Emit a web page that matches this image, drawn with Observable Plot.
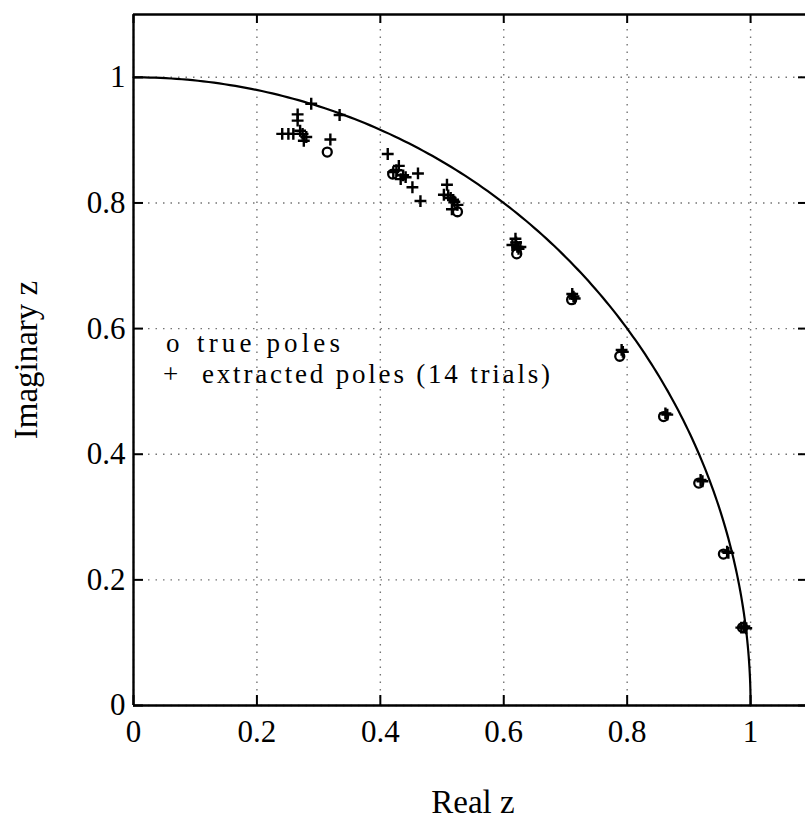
<!DOCTYPE html>
<html><head><meta charset="utf-8">
<script src="https://cdn.jsdelivr.net/npm/d3@7"></script>
<script src="https://cdn.jsdelivr.net/npm/@observablehq/plot@0.6"></script>
<style>
body{margin:0;background:#fff;}
#wrap{width:805px;height:821px;}
</style></head><body><div id="wrap"></div>
<script>
// Axis ticks
const xTicks = [0, 0.2, 0.4, 0.6, 0.8, 1];
const xTickLabels = ["0", "0.2", "0.4", "0.6", "0.8", "1"];
const yTicks = [0, 0.2, 0.4, 0.6, 0.8, 1];
const yTickLabels = ["0", "0.2", "0.4", "0.6", "0.8", "1"];
const xLabel = "Real z";
const yLabel = "Imaginary z";
const legendLabels = ["true poles", "extracted poles (14 trials)"];

// True poles (o)
const trueX = [0.314, 0.420, 0.525, 0.621, 0.710, 0.788, 0.859, 0.916, 0.956, 0.987];
const trueY = [0.881, 0.846, 0.786, 0.719, 0.646, 0.556, 0.460, 0.354, 0.241, 0.124];

// Extracted poles (+), 14 trials, many overlapping
const extX = [
  0.288, 0.334, 0.266, 0.266, 0.241, 0.251, 0.259, 0.274, 0.276, 0.319, 0.270, 0.280,
  0.412, 0.430, 0.421, 0.437, 0.441, 0.461, 0.452, 0.465, 0.426, 0.433,
  0.508, 0.503, 0.514, 0.520, 0.516, 0.525, 0.510, 0.518,
  0.619, 0.622, 0.627, 0.614, 0.620, 0.624,
  0.713, 0.711, 0.715,
  0.793, 0.791,
  0.865, 0.862,
  0.922, 0.919,
  0.964, 0.962,
  0.985, 0.989, 0.993, 0.990
];
const extY = [
  0.958, 0.940, 0.941, 0.931, 0.910, 0.910, 0.910, 0.910, 0.899, 0.901, 0.915, 0.905,
  0.878, 0.859, 0.849, 0.844, 0.841, 0.847, 0.825, 0.803, 0.852, 0.838,
  0.829, 0.813, 0.808, 0.802, 0.790, 0.797, 0.812, 0.805,
  0.743, 0.730, 0.730, 0.733, 0.737, 0.727,
  0.651, 0.655, 0.648,
  0.563, 0.566,
  0.463, 0.465,
  0.357, 0.359,
  0.243, 0.245,
  0.124, 0.124, 0.123, 0.126
];

// Unit circle reference (angles in degrees)
const circleDeg = d3.range(0, 90.25, 0.5);

const truePoles = trueX.map((x, i) => ({x, y: trueY[i]}));
const extPoles = extX.map((x, i) => ({x, y: extY[i]}));
const circle = circleDeg.map(a => ({x: Math.cos(a * Math.PI / 180), y: Math.sin(a * Math.PI / 180)}));

const fmtX = d => xTickLabels[xTicks.indexOf(d)];
const fmtY = d => yTickLabels[yTicks.indexOf(d)];
const font = '"Liberation Serif", "Times New Roman", serif';

const plot = Plot.plot({
  width: 805, height: 821,
  marginLeft: 133, marginRight: 0, marginTop: 14, marginBottom: 116,
  x: {domain: [0, 1.089]},
  y: {domain: [0, 1.1]},
  style: {fontFamily: font, fontSize: "30px", color: "black", background: "white"},
  marks: [
    Plot.gridX(xTicks, {stroke: "black", strokeOpacity: 0.55, strokeWidth: 1.4, strokeDasharray: "1.5,6"}),
    Plot.gridY(yTicks, {stroke: "black", strokeOpacity: 0.55, strokeWidth: 1.4, strokeDasharray: "1.5,6"}),
    Plot.line(circle, {x: "x", y: "y", stroke: "black", strokeWidth: 2.2}),
    Plot.dot(truePoles, {x: "x", y: "y", symbol: "circle", r: 4.5, stroke: "black", strokeWidth: 2.3, fill: "none"}),
    Plot.dot(extPoles, {x: "x", y: "y", symbol: "plus", r: 3.9, stroke: "black", strokeWidth: 2.4}),
    Plot.ruleX([0], {stroke: "black", strokeWidth: 2.4}),
    Plot.ruleY([0], {stroke: "black", strokeWidth: 2.4}),
    Plot.ruleY([1.1], {stroke: "black", strokeWidth: 2.4}),
    Plot.axisX(xTicks, {anchor: "bottom", tickSize: -10, tickPadding: 24, tickFormat: fmtX, label: null, strokeWidth: 2, fontSize: 31, fontFamily: font, fontVariant: "normal"}),
    Plot.axisX(xTicks, {anchor: "top", tickSize: -8, tickFormat: () => "", label: null, strokeWidth: 2}),
    Plot.axisY(yTicks, {anchor: "left", tickSize: -10, tickPadding: 18, tickFormat: fmtY, label: null, strokeWidth: 2, fontSize: 31, fontFamily: font, fontVariant: "normal"}),
    Plot.axisY(yTicks, {anchor: "right", tickSize: -8, tickFormat: () => "", label: null, strokeWidth: 2})
  ]
});

document.getElementById("wrap").appendChild(plot);

const svg = d3.select(plot);
svg.append("text").attr("x", 473).attr("y", 813).attr("text-anchor", "middle")
  .attr("font-family", font).attr("font-size", 33).attr("fill", "black").text(xLabel);
svg.append("text").attr("transform", "translate(37,360) rotate(-90)").attr("text-anchor", "middle")
  .attr("font-family", font).attr("font-size", 33).attr("fill", "black").text(yLabel);

// Legend
const lg = svg.append("g").attr("font-family", font).attr("font-size", 27).attr("fill", "black").attr("text-anchor", "start");
lg.append("text").attr("x", 166).attr("y", 352).text("o");
lg.append("text").attr("x", 197).attr("y", 352).attr("textLength", 143).attr("lengthAdjust", "spacing").text(legendLabels[0]);
lg.append("text").attr("x", 163).attr("y", 383).text("+");
lg.append("text").attr("x", 202).attr("y", 383).attr("textLength", 348).attr("lengthAdjust", "spacing").text(legendLabels[1]);
</script>
</body></html>
